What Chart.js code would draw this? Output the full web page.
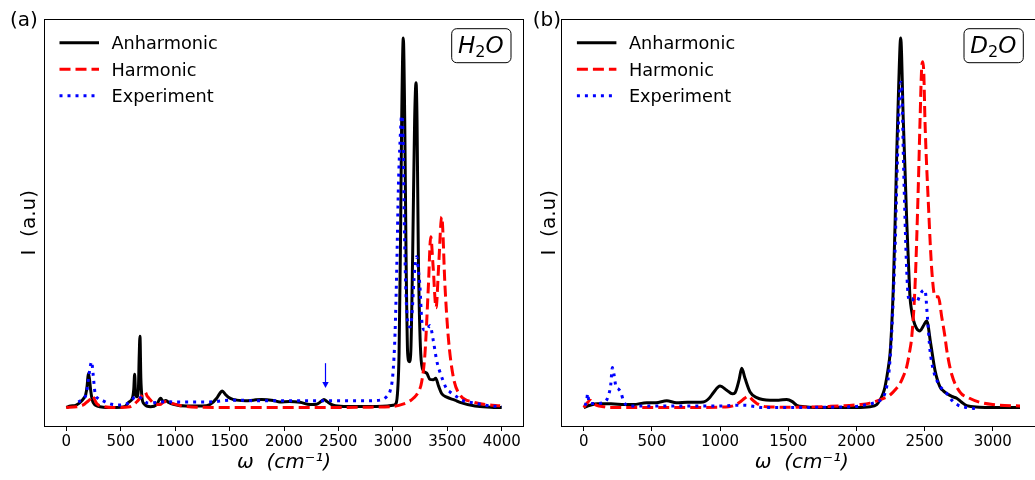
<!DOCTYPE html>
<html><head><meta charset="utf-8">
<script src="https://cdn.jsdelivr.net/npm/chart.js@4.4.0/dist/chart.umd.min.js"></script>
<style>
html,body{margin:0;padding:0;background:#fff;overflow:hidden;width:1035px;height:480px;position:relative;}
#cA{position:absolute;left:0;top:0;}
#cB{position:absolute;left:520px;top:0;}
</style></head><body>
<canvas id="cA" width="540" height="480"></canvas>
<canvas id="cB" width="530" height="480"></canvas>
<script>
// ---------- tick labels ----------
const h2oTicks = [0,500,1000,1500,2000,2500,3000,3500,4000];
const d2oTicks = [0,500,1000,1500,2000,2500,3000];
const seriesLabels = ['Anharmonic','Harmonic','Experiment'];

// ---------- (a) H2O ----------
const h2oAnharmX = [0,40,86,132,160,178,192,202,212,224,239,260,285,340,450,540,576,607,620,628,636,647,662,670,677,685,695,714,775,830,867,890,913,940,983,1100,1250,1320,1382,1410,1433,1460,1489,1530,1565,1650,1718,1795,1902,1963,2050,2147,2239,2300,2340,2367,2395,2453,2550,2700,2850,2950,3000,3029,3045,3057,3069,3081,3096,3109,3121,3136,3151,3164,3182,3200,3213,3222,3234,3256,3280,3311,3341,3370,3394,3420,3448,3495,3570,3617,3755,3900,4000];
const h2oAnharmY = [0,0.004,0.006,0.015,0.025,0.034,0.06,0.092,0.08,0.047,0.02,0.008,0.004,0.001,0,0.003,0.015,0.025,0.05,0.09,0.04,0.029,0.047,0.14,0.193,0.08,0.029,0.01,0.002,0.008,0.025,0.016,0.019,0.014,0.009,0.004,0.004,0.008,0.025,0.038,0.045,0.036,0.028,0.022,0.02,0.018,0.02,0.022,0.019,0.015,0.016,0.014,0.008,0.009,0.016,0.022,0.016,0.006,0.003,0.003,0.003,0.004,0.006,0.011,0.05,0.146,0.417,0.778,1.0,0.778,0.417,0.146,0.124,0.146,0.417,0.778,0.879,0.778,0.417,0.146,0.1,0.093,0.076,0.075,0.079,0.058,0.038,0.028,0.02,0.014,0.004,0.001,0];

const h2oHarmX = [0,95,156,190,218,240,260,279,340,450,585,646,690,723,745,769,800,861,890,922,960,1055,1200,1500,2000,2500,2800,3004,3100,3158,3188,3230,3265,3295,3326,3348,3370,3397,3420,3449,3479,3509,3555,3617,3739,3850,3985];
const h2oHarmY = [0,0.002,0.007,0.015,0.022,0.032,0.022,0.011,0.003,0,0.002,0.015,0.03,0.042,0.03,0.022,0.012,0.008,0.014,0.016,0.012,0.005,0.001,0,0,0,0.001,0.003,0.01,0.018,0.025,0.04,0.07,0.146,0.327,0.462,0.38,0.27,0.38,0.516,0.327,0.191,0.083,0.034,0.015,0.008,0.005];

const h2oExpX = [110,130,156,187,205,220,233,245,264,290,325,401,478,555,601,631,660,690,754,830,915,1000,1100,1300,1534,1800,2100,2400,2760,2882,2944,2975,3000,3020,3036,3051,3066,3081,3092,3105,3118,3130,3145,3158,3175,3195,3210,3219,3235,3249,3265,3290,3311,3341,3372,3402,3448,3495,3525,3587,3632,3750,3908,4000];
const h2oExpY = [0.015,0.018,0.022,0.042,0.08,0.11,0.124,0.095,0.04,0.025,0.02,0.01,0.007,0.01,0.02,0.029,0.03,0.025,0.012,0.014,0.016,0.015,0.015,0.015,0.02,0.018,0.018,0.018,0.018,0.02,0.03,0.045,0.09,0.2,0.38,0.6,0.72,0.79,0.75,0.5,0.33,0.25,0.22,0.218,0.25,0.35,0.4,0.408,0.37,0.327,0.237,0.21,0.21,0.222,0.18,0.128,0.083,0.05,0.042,0.029,0.02,0.012,0.004,0.003];

// arrow marking the weak feature (data units)
const h2oArrowX = 2380;
const h2oArrowY = [0.12, 0.053];

// ---------- (b) D2O ----------
const d2oAnharmX = [0,46,100,200,300,364,462,530,609,680,760,877,920,951,1000,1049,1090,1110,1139,1159,1183,1220,1269,1367,1430,1489,1530,1562,1620,1687,1800,2000,2100,2149,2173,2198,2210,2235,2247,2259,2271,2284,2296,2310,2325,2344,2357,2369,2381,2393,2406,2418,2440,2467,2490,2516,2545,2577,2613,2638,2663,2700,2736,2770,2809,2900,3000,3200];
const d2oAnharmY = [0,0.006,0.01,0.01,0.008,0.008,0.013,0.013,0.018,0.013,0.014,0.015,0.025,0.04,0.058,0.047,0.037,0.04,0.074,0.106,0.079,0.042,0.027,0.02,0.02,0.022,0.016,0.006,0.002,0,0,0,0.002,0.008,0.02,0.04,0.056,0.11,0.146,0.22,0.327,0.5,0.688,0.868,1.0,0.778,0.64,0.507,0.4,0.3,0.26,0.237,0.215,0.207,0.22,0.234,0.173,0.1,0.056,0.045,0.038,0.03,0.025,0.015,0.005,0.001,0,0];

const d2oHarmX = [0,25,46,70,95,150,193,400,700,1000,1100,1147,1180,1207,1240,1269,1342,1500,1800,2027,2100,2200,2247,2290,2320,2345,2369,2390,2406,2430,2454,2467,2479,2487,2495,2503,2528,2553,2577,2601,2626,2650,2663,2699,2760,2830,2907,3000,3200];
const d2oHarmY = [0,0.012,0.02,0.012,0.006,0.002,0,0,0,0.001,0.005,0.015,0.025,0.031,0.02,0.011,0.002,0.001,0.003,0.008,0.012,0.025,0.034,0.05,0.065,0.085,0.11,0.15,0.191,0.327,0.597,0.778,0.92,0.936,0.9,0.778,0.552,0.372,0.3,0.3,0.245,0.191,0.155,0.09,0.042,0.025,0.014,0.008,0.004];

const d2oExpX = [10,22,29,36,46,95,156,186,198,210,222,235,255,274,291,340,500,700,975,1122,1183,1250,1317,1500,1800,2000,2100,2150,2200,2222,2240,2259,2271,2283,2296,2310,2325,2335,2344,2357,2369,2381,2395,2406,2420,2443,2462,2479,2503,2521,2540,2565,2601,2663,2699,2748,2809,2870];
const d2oExpY = [0.005,0.02,0.038,0.02,0.011,0.011,0.015,0.038,0.061,0.108,0.09,0.059,0.05,0.04,0.018,0.004,0.004,0.004,0.004,0.006,0.006,0.003,0,0,0.001,0.003,0.01,0.015,0.03,0.056,0.1,0.2,0.3,0.417,0.6,0.78,0.88,0.85,0.688,0.507,0.372,0.3,0.29,0.295,0.29,0.286,0.3,0.313,0.318,0.245,0.155,0.101,0.065,0.038,0.02,0.006,0,-0.003];

// ---------- helpers ----------
const FONT = '"DejaVu Sans"';
function pts(xs, ys){ return xs.map((x,i)=>({x:x, y:ys[i]})); }
function datasets(ax, ay, hx, hy, ex, ey){
  const common = {pointRadius:0, fill:false, cubicInterpolationMode:'monotone', borderCapStyle:'butt', borderJoinStyle:'round'};
  return [
    Object.assign({label:seriesLabels[0], data:pts(ax,ay), borderColor:'#000000', borderWidth:3, order:2}, common),
    Object.assign({label:seriesLabels[1], data:pts(hx,hy), borderColor:'#ff0000', borderWidth:3, borderDash:[11,5], order:1}, common),
    Object.assign({label:seriesLabels[2], data:pts(ex,ey), borderColor:'#0000ff', borderWidth:3, borderDash:[3,5], order:0}, common)
  ];
}

const overlay = {
  id:'overlay',
  afterDraw(chart, args, o){
    const ctx = chart.ctx, ca = chart.chartArea;
    ctx.save();
    // frame (all four spines)
    const L=Math.floor(ca.left)+0.5, T=Math.floor(ca.top)+0.5, R=Math.floor(ca.right)+0.5, B=Math.floor(ca.bottom)+0.5;
    ctx.setLineDash([]); ctx.strokeStyle='#000'; ctx.lineWidth=1;
    ctx.strokeRect(L,T,R-L,B-T);
    // arrow
    if (o.arrowX !== undefined){
      const px = Math.round(chart.scales.x.getPixelForValue(o.arrowX))+0.5;
      const p0 = chart.scales.y.getPixelForValue(o.arrowY[0]);
      const p1 = chart.scales.y.getPixelForValue(o.arrowY[1]);
      ctx.strokeStyle='#0000ff'; ctx.fillStyle='#0000ff'; ctx.lineWidth=1.2;
      ctx.beginPath(); ctx.moveTo(px,p0); ctx.lineTo(px,p1-4); ctx.stroke();
      ctx.beginPath(); ctx.moveTo(px-3.2,p1-6); ctx.lineTo(px+3.2,p1-6); ctx.lineTo(px,p1); ctx.closePath(); ctx.fill();
    }
    // legend (upper left, inside)
    chart.data.datasets.forEach((ds,i)=>{
      const y = ca.top + 23.2 + i*26.5;
      ctx.strokeStyle=ds.borderColor; ctx.lineWidth=ds.borderWidth; ctx.lineCap='butt';
      ctx.setLineDash(ds.borderDash||[]);
      ctx.beginPath(); ctx.moveTo(ca.left+15, y); ctx.lineTo(ca.left+54.5, y); ctx.stroke();
      ctx.setLineDash([]);
      ctx.fillStyle='#000'; ctx.font='17.7px '+FONT; ctx.textAlign='left'; ctx.textBaseline='alphabetic';
      ctx.fillText(ds.label, ca.left+67, y+6.4);
    });
    // inset label box
    const bw=59.3, bh=34, br=5;
    const bx = ca.right - o.boxRight - bw, by = ca.top + 9.2;
    ctx.beginPath();
    ctx.moveTo(bx+br,by); ctx.lineTo(bx+bw-br,by); ctx.arcTo(bx+bw,by,bx+bw,by+br,br);
    ctx.lineTo(bx+bw,by+bh-br); ctx.arcTo(bx+bw,by+bh,bx+bw-br,by+bh,br);
    ctx.lineTo(bx+br,by+bh); ctx.arcTo(bx,by+bh,bx,by+bh-br,br);
    ctx.lineTo(bx,by+br); ctx.arcTo(bx,by,bx+br,by,br); ctx.closePath();
    ctx.fillStyle='#fff'; ctx.fill(); ctx.strokeStyle='#000'; ctx.lineWidth=1; ctx.stroke();
    ctx.fillStyle='#000'; ctx.textBaseline='alphabetic'; ctx.textAlign='left';
    let tx = bx + 6.3; const base = by + 24;
    ctx.font='italic 23px '+FONT; ctx.fillText(o.inset[0], tx, base); tx += ctx.measureText(o.inset[0]).width;
    ctx.font='16px '+FONT; ctx.fillText(o.inset[1], tx, base+4); tx += ctx.measureText(o.inset[1]).width;
    ctx.font='italic 23px '+FONT; ctx.fillText(o.inset[2], tx, base);
    // panel label
    ctx.font='20px '+FONT; ctx.fillText(o.panel, o.panelX, 25.5);
    ctx.restore();
  }
};

function makeChart(id, ds, xmin, xmax, ticks, padRight, yWidth, opts){
  return new Chart(document.getElementById(id), {
    type:'line',
    data:{datasets:ds},
    plugins:[overlay],
    options:{
      responsive:false, animation:false, events:[],
      layout:{padding:{left:0, right:padRight, top:19.5, bottom:0}},
      plugins:{legend:{display:false}, tooltip:{enabled:false}, overlay:opts},
      scales:{
        x:{type:'linear', min:xmin, max:xmax,
           afterBuildTicks:(ax)=>{ ax.ticks = ticks.map(v=>({value:v})); },
           afterFit:(s)=>{ s.height = 54; },
           ticks:{autoSkip:false, maxRotation:0, padding:2, color:'#000', font:{family:'DejaVu Sans', size:15},
                  callback:(v,i)=>String(ticks[i])},
           grid:{display:true, drawOnChartArea:false, drawTicks:true, tickLength:5, tickWidth:1, tickColor:'#000'},
           border:{display:false},
           title:{display:true, text:'ω  (cm⁻¹)', color:'#000', font:{family:'DejaVu Sans', size:20, style:'italic'}, padding:{top:0,bottom:5}}
        },
        y:{type:'linear', min:-0.05, max:1.05,
           afterFit:(s)=>{ s.width = yWidth; },
           ticks:{display:false}, grid:{display:false}, border:{display:false},
           title:{display:true, text:'I  (a.u)', color:'#000', font:{family:'DejaVu Sans', size:20}, padding:{top:17.5,bottom:0}}
        }
      }
    }
  });
}

makeChart('cA', datasets(h2oAnharmX,h2oAnharmY,h2oHarmX,h2oHarmY,h2oExpX,h2oExpY), -200, 4200, h2oTicks, 16.5, 44.5,
  {panel:'(a)', panelX:10, inset:['H','2','O'], boxRight:12.5, arrowX:h2oArrowX, arrowY:h2oArrowY});
makeChart('cB', datasets(d2oAnharmX,d2oAnharmY,d2oHarmX,d2oHarmY,d2oExpX,d2oExpY), -160, 3360, d2oTicks, 8.2, 41.9,
  {panel:'(b)', panelX:12.7, inset:['D','2','O'], boxRight:18.5});
</script>
</body></html>
